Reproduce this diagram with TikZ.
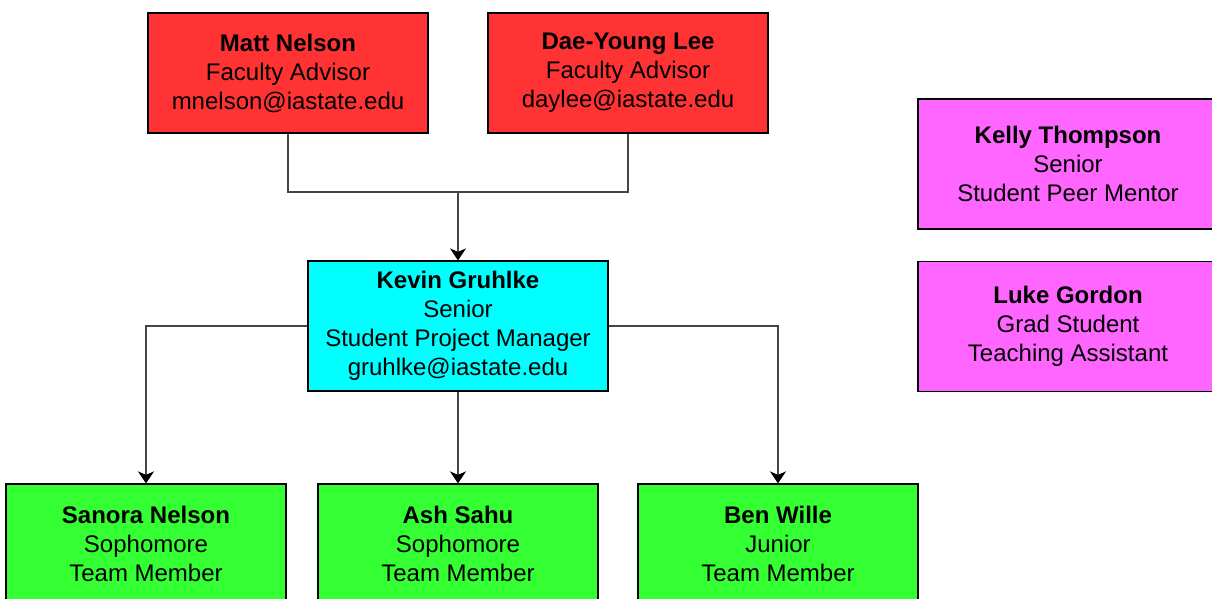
\documentclass[tikz,border=0pt]{standalone}
\usepackage{fontspec}
\setmainfont{Liberation Sans}
\definecolor{AdvisorRed}{RGB}{255,51,51}
\definecolor{ManagerCyan}{RGB}{0,255,255}
\definecolor{MemberGreen}{RGB}{51,255,51}
\definecolor{MentorPink}{RGB}{255,102,255}
\definecolor{LinkGray}{RGB}{70,70,70}
\usetikzlibrary{arrows.meta, positioning}

\begin{document}
\begin{tikzpicture}[
  x=1pt, y=-1pt,
  box/.style={draw=black, line width=1.2pt, minimum width=280pt,
              minimum height=120pt, align=center, inner sep=0pt,
              font=\fontsize{24}{29}\selectfont},
  link/.style={line width=1.5pt, LinkGray},
  arrow/.style={link, -{Stealth[length=12pt, width=16pt, inset=3.5pt, black]}},
]
  \useasboundingbox (0,0) rectangle (1212,599);

  % advisors
  \node[box, fill=AdvisorRed] (matt) at (288,73)
    {\textbf{Matt Nelson}\\ Faculty Advisor\\ mnelson@iastate.edu};
  \node[box, fill=AdvisorRed] (dae) at (628,73)
    {\textbf{Dae-Young Lee}\\ Faculty Advisor\\ daylee@iastate.edu};

  % project manager
  \node[box, fill=ManagerCyan, minimum width=300pt, minimum height=130pt] (kevin) at (458,326)
    {\textbf{Kevin Gruhlke}\\ Senior\\ Student Project Manager\\ gruhlke@iastate.edu};

  % mentors
  \node[box, fill=MentorPink, minimum width=300pt, minimum height=130pt] (kelly) at (1068,164)
    {\textbf{Kelly Thompson}\\ Senior\\ Student Peer Mentor};
  \node[box, fill=MentorPink, minimum width=300pt, minimum height=130pt] (luke) at (1068,326.5)
    {\textbf{Luke Gordon}\\ Grad Student\\ Teaching Assistant};

  % team members
  \node[box, fill=MemberGreen] (sanora) at (146,544)
    {\textbf{Sanora Nelson}\\ Sophomore\\ Team Member};
  \node[box, fill=MemberGreen] (ash) at (458,544)
    {\textbf{Ash Sahu}\\ Sophomore\\ Team Member};
  \node[box, fill=MemberGreen] (ben) at (778,544)
    {\textbf{Ben Wille}\\ Junior\\ Team Member};

  \coordinate (join) at (458,192);
  \draw[link] (matt.south) |- (join) -| (dae.south);
  \draw[arrow] (join) -- (kevin.north);
  \draw[arrow] (kevin.west) -| (sanora.north);
  \draw[arrow] (kevin.south) -- (ash.north);
  \draw[arrow] (kevin.east) -| (ben.north);
\end{tikzpicture}
\end{document}
